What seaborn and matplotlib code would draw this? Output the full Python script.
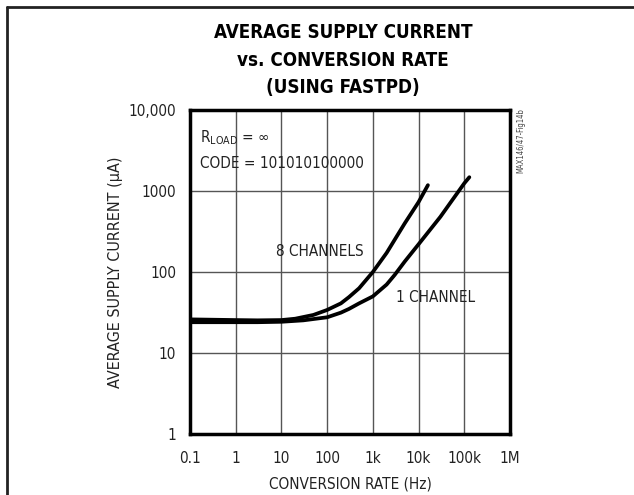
import seaborn as sns
import matplotlib.pyplot as plt
import matplotlib.ticker as mticker
from matplotlib.lines import Line2D
import pandas as pd

# Curve values (Hz, uA)
rate_8ch = [0.1, 1, 3, 10, 20, 50, 100, 200, 300, 500, 1000, 2000, 3000, 5000, 10000, 16000]
current_8ch = [26, 25.5, 25.3, 25.5, 26.5, 29.5, 34, 41, 49, 63, 100, 172, 250, 400, 730, 1180]
rate_1ch = [0.1, 1, 3, 10, 30, 100, 200, 300, 500, 1000, 2000, 3000, 5000, 10000,
            20000, 30000, 50000, 100000, 129000]
current_1ch = [24, 24, 24, 24.3, 25.3, 27.6, 31.5, 35, 41, 50, 70, 92, 135, 220,
               360, 480, 720, 1245, 1480]

x_ticks = [0.1, 1, 10, 100, 1e3, 1e4, 1e5, 1e6]
x_labels = ["0.1", "1", "10", "100", "1k", "10k", "100k", "1M"]
y_ticks = [1, 10, 100, 1000, 10000]
y_labels = ["1", "10", "100", "1000", "10,000"]

df = pd.concat([
    pd.DataFrame({"rate": rate_8ch, "current": current_8ch, "series": "8 CHANNELS"}),
    pd.DataFrame({"rate": rate_1ch, "current": current_1ch, "series": "1 CHANNEL"}),
])

sns.set_style("white")
plt.rcParams["font.family"] = ["DejaVu Sans"]
plt.rcParams["font.stretch"] = "condensed"
plt.rcParams["lines.solid_capstyle"] = "round"
plt.rcParams["lines.solid_joinstyle"] = "round"

fig = plt.figure(figsize=(6.34, 4.95), dpi=100)
ax = fig.add_axes([190 / 634, 1 - 434 / 495, 320 / 634, 324 / 495])

sns.lineplot(data=df, x="rate", y="current", units="series", estimator=None,
             color="black", lw=2.7, ax=ax, legend=False)

ax.set_xscale("log")
ax.set_yscale("log")
ax.set_xlim(0.1, 1e6)
ax.set_ylim(1, 10000)
ax.xaxis.set_major_locator(mticker.FixedLocator(x_ticks))
ax.xaxis.set_minor_locator(mticker.NullLocator())
ax.yaxis.set_major_locator(mticker.FixedLocator(y_ticks))
ax.yaxis.set_minor_locator(mticker.NullLocator())
ax.set_xticklabels(x_labels)
ax.set_yticklabels(y_labels)
ax.tick_params(axis="x", length=0, labelsize=11, pad=12, colors="#222222")
ax.tick_params(axis="y", length=0, labelsize=11, pad=10, colors="#222222")
ax.grid(True, color="#555555", lw=1.0)
for s in ax.spines.values():
    s.set_linewidth(2.5)
    s.set_color("black")

ax.set_xlabel("CONVERSION RATE (Hz)", fontsize=11, color="#222222", labelpad=8)
ax.set_ylabel("AVERAGE SUPPLY CURRENT (\u03bcA)", fontsize=11.5, color="#222222", labelpad=4)

for y_px, line in [(33, "AVERAGE SUPPLY CURRENT"), (60, "vs. CONVERSION RATE"),
                   (88, "(USING FASTPD)")]:
    fig.text(343 / 634, 1 - y_px / 495, line, ha="center", va="center",
             fontsize=13.5, fontweight="heavy", color="black")

ax.text(0.03, 0.915, "R$_{\\mathregular{LOAD}}$ = \u221e", transform=ax.transAxes,
        fontsize=11, va="center", color="#222222")
ax.text(0.03, 0.835, "CODE = 101010100000", transform=ax.transAxes,
        fontsize=11, va="center", color="#222222")
ax.text(70, 180, "8 CHANNELS", fontsize=11, ha="center", va="center", color="#222222")
ax.text(24000, 48, "1 CHANNEL", fontsize=11, ha="center", va="center", color="#222222")

fig.text(521 / 634, 1 - 141 / 495, "MAX146/47-Fig14b", rotation=90, ha="center",
         va="center", fontsize=5.5, color="#444444")

# outer frame (top and left edges visible)
fig.add_artist(Line2D([6.5 / 634, 1], [1 - 6.5 / 495] * 2, color="#222222", lw=2))
fig.add_artist(Line2D([6.5 / 634] * 2, [0, 1 - 6.5 / 495], color="#222222", lw=2))

fig.savefig("out.png", dpi=100)
